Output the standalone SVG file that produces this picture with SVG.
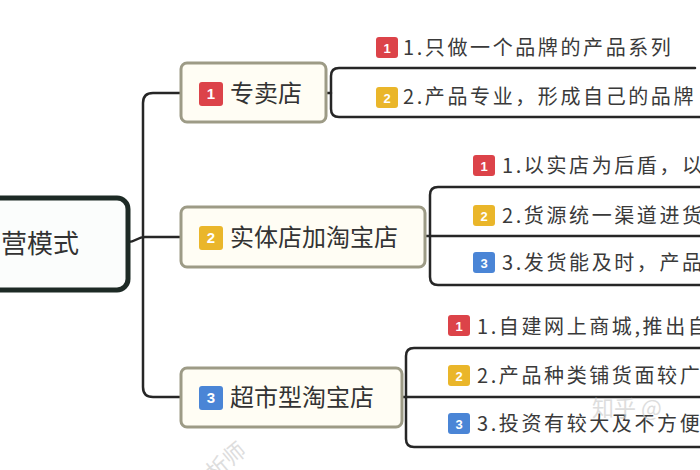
<svg xmlns="http://www.w3.org/2000/svg" width="700" height="470" viewBox="0 0 700 470">
<defs>
<style>
.bg{fill:#ffffff}
.root{fill:#fbfdfc;stroke:#1d2a25;stroke-width:5}
.node{fill:#fffdf4;stroke:#9d9b86;stroke-width:3}
.conn{fill:none;stroke:#262626;stroke-width:2.5;stroke-linecap:round;stroke-linejoin:round}
.t0{font-family:"Noto Sans CJK SC","Noto Sans",sans-serif;font-size:26px;fill:#333}
.t1{font-family:"Noto Sans CJK SC","Noto Sans",sans-serif;font-size:24px;fill:#333}
.t2{font-family:"Noto Sans CJK SC","Noto Sans",sans-serif;font-size:20px;letter-spacing:2.6px;fill:#3a3a3a}
.bn{font-family:"Liberation Sans",Arial,sans-serif;font-weight:bold;fill:#fff;text-anchor:middle}
.r{fill:#dc4349}
.y{fill:#eab62a}
.b{fill:#4a85d6}
.wm{font-family:"Noto Sans CJK SC",sans-serif;fill:#cfcfcf;opacity:0.7}
</style>
</defs>
<rect class="bg" x="0" y="0" width="700" height="470"/>

<g id="connectors">
<path class="conn" d="M128,242 C136,242 137,237 145,237 H181"/>
<path class="conn" d="M181,93 H153 Q143,93 143,103 V387 Q143,397 153,397 H181"/>
<path class="conn" d="M326,93 H331"/>
<path class="conn" d="M695,68 H339 Q331,68 331,76 V109 Q331,117 339,117 H702"/>
<path class="conn" d="M702,187 H438 Q430,187 430,195 V277 Q430,285 438,285 H702"/>
<path class="conn" d="M425,236 H702"/>
<path class="conn" d="M702,348 H414 Q406,348 406,356 V439 Q406,447 414,447 H702"/>
<path class="conn" d="M402,397 H702"/>
</g>

<g id="root">
<rect class="root" x="-20" y="198" width="148" height="92" rx="11"/>
<text class="t0" x="1" y="253">营模式</text>
</g>

<g id="n1">
<rect class="node" x="181" y="63" width="145" height="59" rx="6"/>
<rect class="r" x="199" y="82" width="24" height="24" rx="3"/>
<text class="bn" x="211" y="99" font-size="15">1</text>
<text class="t1" x="230" y="102">专卖店</text>
</g>

<g id="n2">
<rect class="node" x="181" y="207" width="244" height="60" rx="6"/>
<rect class="y" x="199" y="226" width="24" height="24" rx="3"/>
<text class="bn" x="211" y="243" font-size="15">2</text>
<text class="t1" x="230" y="246">实体店加淘宝店</text>
</g>

<g id="n3">
<rect class="node" x="181" y="368" width="221" height="59" rx="6"/>
<rect class="b" x="199" y="386" width="24" height="24" rx="3"/>
<text class="bn" x="211" y="403" font-size="15">3</text>
<text class="t1" x="230" y="406">超市型淘宝店</text>
</g>

<g id="n1-1">
<rect class="r" x="376" y="37" width="22" height="21" rx="3"/>
<text class="bn" x="387" y="53" font-size="13">1</text>
<text class="t2" x="403" y="55">1.只做一个品牌的产品系列</text>
</g>
<g id="n1-2">
<rect class="y" x="376" y="87" width="22" height="21" rx="3"/>
<text class="bn" x="387" y="103" font-size="13">2</text>
<text class="t2" x="403" y="104">2.产品专业，形成自己的品牌</text>
</g>

<g id="n2-1">
<rect class="r" x="473" y="155" width="22" height="21" rx="3"/>
<text class="bn" x="484" y="171" font-size="13">1</text>
<text class="t2" x="502" y="173">1.以实店为后盾，以</text>
</g>
<g id="n2-2">
<rect class="y" x="473" y="205" width="22" height="21" rx="3"/>
<text class="bn" x="484" y="221" font-size="13">2</text>
<text class="t2" x="502" y="223">2.货源统一渠道进货</text>
</g>
<g id="n2-3">
<rect class="b" x="473" y="252" width="22" height="21" rx="3"/>
<text class="bn" x="484" y="268" font-size="13">3</text>
<text class="t2" x="502" y="270">3.发货能及时，产品</text>
</g>

<g id="n3-1">
<rect class="r" x="448" y="315" width="22" height="21" rx="3"/>
<text class="bn" x="459" y="331" font-size="13">1</text>
<text class="t2" x="477" y="334">1.自建网上商城,推出自</text>
</g>
<g id="n3-2">
<rect class="y" x="448" y="365" width="22" height="21" rx="3"/>
<text class="bn" x="459" y="381" font-size="13">2</text>
<text class="t2" x="477" y="383">2.产品种类铺货面较广</text>
</g>
<g id="n3-3">
<rect class="b" x="448" y="413" width="22" height="21" rx="3"/>
<text class="bn" x="459" y="429" font-size="13">3</text>
<text class="t2" x="477" y="431">3.投资有较大及不方便</text>
</g>

<g id="watermark">
<text class="wm" x="592" y="416" font-size="22">知乎 @</text>
<text class="wm" x="200" y="468" font-size="22" transform="rotate(-40 225 455)">析师</text>
</g>
</svg>
